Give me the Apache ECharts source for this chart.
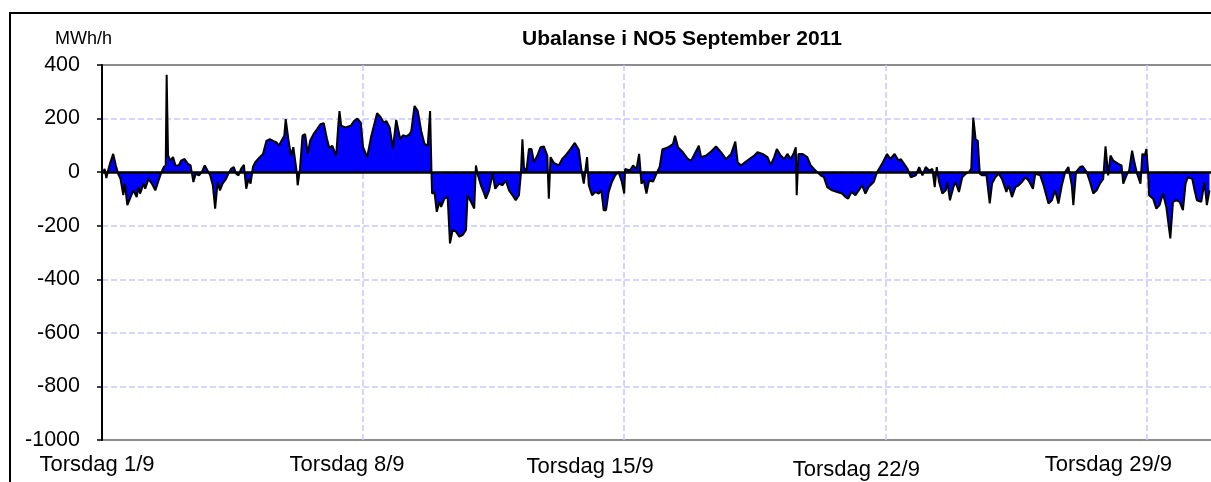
<!DOCTYPE html>
<html>
<head>
<meta charset="utf-8">
<script src="https://cdn.jsdelivr.net/npm/echarts@6/dist/echarts.min.js"></script>
<style>
  html, body { margin: 0; padding: 0; background: #fff; }
  #chart { width: 1211px; height: 482px; }
</style>
</head>
<body>
<div id="chart"></div>
<script>
// timer fra 1/9 kl 00, ubalanse i MWh/h
const hours = [
  0, 1.7, 2.8, 3.9, 5.4, 7.2, 8.9, 10.4, 11.9, 13.7, 14.7, 16.3, 18.0, 20.2, 22.3, 23.4, 24.5, 26.7, 27.8, 29.9,
  32.1, 34.3, 36.4, 37.9, 39.7, 41.0, 41.6, 42.5, 44.0, 45.7, 47.3, 49.4, 50.9, 53.1, 55.3, 57.0, 58.8, 60.3, 62.4, 64.2,
  66.1, 67.9, 69.6, 71.3, 72.8, 74.4, 75.9, 77.6, 79.8, 81.3, 83.0, 84.8, 86.3, 87.8, 89.5, 91.3, 92.8, 94.3, 95.6, 97.1,
  98.6, 101.5, 103.6, 105.8, 108.0, 110.1, 112.3, 113.8, 115.5, 117.3, 118.2, 119.9, 121.6, 123.1, 125.3, 125.9, 127.4, 129.0, 130.7, 132.4,
  133.9, 136.1, 138.3, 140.5, 142.7, 144.8, 146.3, 148.1, 150.7, 152.0, 152.8, 153.9, 156.7, 160.0, 162.2, 164.3, 166.5,
  168.0, 170.6, 173.3, 177.0, 179.1, 181.2, 182.9, 185.1, 187.2, 189.3, 190.4, 191.9, 193.6, 195.8, 197.9, 199.0, 201.1, 203.2, 205.4, 207.5,
  209.6, 210.7, 211.1, 212.0, 212.4, 213.9, 215.4, 217.1, 218.2, 220.3, 222.4, 223.9, 225.6, 227.8, 229.9, 232.0, 234.2, 235.2, 237.4, 239.5,
  240.6, 241.6, 243.8, 245.9, 247.0, 249.1, 251.3, 253.0, 255.5, 257.7, 259.8, 261.9, 264.1, 266.2, 268.3, 269.6, 270.5, 271.5, 273.0, 274.7,
  276.4, 277.9, 280.1, 282.2, 284.3, 286.5, 287.5, 288.6, 290.7, 293.9, 296.1, 298.2, 301.4, 304.2, 306.8, 308.5, 310.0, 312.1, 313.2, 315.3,
  317.4, 319.6, 321.3, 322.8, 324.3, 326.0, 328.1, 330.2, 332.4, 334.5, 336.0, 336.6,
  339.6, 341.7, 343.9, 345.6, 347.1, 348.6, 350.3, 352.0, 354.6, 356.7, 358.8, 360.6, 362.7, 365.2, 367.4, 368.7, 370.6, 373.8, 377.0, 379.1,
  381.3, 384.0, 385.5, 388.7, 391.9, 395.1, 398.4, 401.6, 404.8, 407.5, 409.0, 411.1, 413.3, 416.5, 419.7, 421.8, 425.0, 428.2, 430.3, 432.5,
  434.2, 436.7, 438.9, 441.0, 443.2, 445.3, 446.4, 447.0, 448.1, 450.6, 453.8, 456.0, 458.1, 460.2, 462.4, 464.5, 466.6, 469.8, 473.0, 476.2,
  478.4, 480.1, 482.2, 484.8, 486.9, 489.1, 491.2, 493.3, 496.5, 498.7, 501.9, 505.1, 507.2, 510.0, 512.5,
  514.0, 516.1, 518.3, 520.4, 523.6, 525.8, 527.9, 530.0, 532.2, 534.3, 535.8, 537.1, 538.6, 540.7, 542.9, 543.9, 545.6, 547.8, 549.2, 551.4,
  553.5, 555.7, 557.8, 559.3, 560.6, 562.1, 563.5, 564.8, 566.3, 569.1, 571.2, 572.7, 574.8, 577.0, 579.1, 581.9, 583.4, 585.5, 587.7, 589.8,
  591.9, 594.1, 596.2, 599.0, 600.5, 603.7, 605.8, 609.0, 611.2, 613.3, 615.4, 617.6, 619.7, 621.8, 624.0, 625.0, 626.7, 629.3, 631.0, 633.6,
  635.7, 637.8, 640.0, 642.1, 644.2, 645.7, 647.4, 648.9, 650.7, 653.9, 656.0, 657.1, 659.2, 660.9, 662.8, 664.5, 666.0, 668.2, 669.4, 670.9,
  672.0, 673.1, 673.7, 676.3, 678.4, 680.5, 682.7, 684.8, 687.4, 689.1, 691.2, 693.4, 695.5, 697.2, 698.7, 701.5, 703.0, 704.5, 707.3, 709.4,
  710.9, 712.6
];
const values = [
  -6, 12, -22, 6, 37, 68, 25, -6, -25, -86, -43, -123, -99, -68, -93, -56, -80, -43, -62, -25,
  -43, -68, -31, -6, 19, 25, 364, 62, 43, 56, 25, 25, 43, 49, 31, 25, -37, -6, -12, 0,
  25, 6, -12, -49, -136, -37, -68, -43, -25, -6, 12, 19, -6, -12, 12, 27, -62, -25, -43, 19,
  37, 56, 68, 117, 123, 117, 111, 99, 117, 136, 198, 123, 62, 93, 0, -49, 12, 136, 142, 68,
  117, 142, 160, 179, 183, 123, 89, 99, 62, 173, 228, 173, 167, 173, 191, 200, 185,
  93, 56, 136, 220, 207, 185, 191, 167, 89, 195, 191, 123, 138, 133, 142, 154, 247, 228, 154, 105,
  99, 105, 228, 0, -80, -74, -148, -111, -130, -99, -93, -266, -216, -222, -241, -235, -216, -86, -111, -136,
  25, -6, -49, -80, -99, -68, -6, -62, -43, -49, -31, -68, -86, -105, -86, 0, 123, 19, 0, 86,
  86, 37, 62, 93, 96, 62, -99, 56, 35, 25, 49, 62, 86, 109, 84, 6, -43, 56, -49, -86,
  -74, -80, -68, -142, -142, -74, -37, -12, 0, -37, -80, 12,
  6, 25, 12, 68, -43, -31, -80, -31, -35, -6, 19, 86, 89, 96, 105, 136, 93, 74, 49, 43,
  68, 99, 56, 62, 77, 96, 74, 49, 68, 114, 37, 25, 35, 49, 62, 74, 68, 56, 27, 56,
  86, 62, 49, 68, 49, 74, 93, -86, 68, 68, 56, 25, 12, 0, -12, -19, -56, -68, -74, -80,
  -93, -99, -74, -86, -68, -49, -80, -56, -37, 0, 31, 68, 49, 68, 43,
  49, 31, 12, -19, -12, 19, -12, 19, 6, 12, -56, 19, -37, -80, -68, -37, -105, -56, -37, -74,
  -19, -6, 0, 12, 204, 123, 117, -6, -12, -12, -117, -43, -19, -6, -25, -74, -49, -93, -56, -49,
  -37, -19, -31, -62, -6, -12, -49, -117, -105, -68, -117, -49, 0, 19, -49, -123, 0, 19, 22, 0,
  -37, -80, -68, -43, -25, 96, -12, 62, 43, 31, 25, -43, -12, 6, 80, 31, -6, -43, 68, 62,
  86, 0, -86, -99, -136, -123, -80, -130, -247, -111, -105, -111, -142, -43, -19, -25, -68, -105, -111, -37,
  -123, -68
];
const tickHours = [0, 168, 336, 504, 672];
const tickLabels = ['Torsdag 1/9', 'Torsdag 8/9', 'Torsdag 15/9', 'Torsdag 22/9', 'Torsdag 29/9'];

const font = "'Liberation Sans', Arial, sans-serif";
// Excel plasserer etikettene litt ujevnt
const labelShift = [[0, 10], [0, 32], [2, 68], [5, 58], [0, 76]];
const rich = {};
labelShift.forEach((s, i) => {
  rich['r' + i] = { fontSize: 22, fontFamily: font, color: '#000', padding: [s[0], s[1], 0, 0] };
});

const myChart = echarts.init(document.getElementById('chart'));
const gridLine = { color: '#c8c8ff', type: [6, 3], width: 1.5 };

const option = {
  animation: false,
  title: [
    {
      text: 'Ubalanse i NO5 September 2011',
      left: 522, top: 29, padding: 0,
      textStyle: { fontFamily: font, fontSize: 21, fontWeight: 'bold', color: '#000' }
    },
    {
      text: 'MWh/h',
      left: 55, top: 30, padding: 0,
      textStyle: { fontFamily: font, fontSize: 18, fontWeight: 'normal', color: '#000' }
    }
  ],
  graphic: [{
    type: 'rect',
    shape: { x: 10, y: 13, width: 1400, height: 600 },
    style: { fill: 'none', stroke: '#000', lineWidth: 2 },
    silent: true
  }],
  grid: {
    left: 102, top: 65, width: 1119, height: 375,
    outerBoundsMode: 'none', containLabel: false,
    show: true, borderColor: '#8c8c8c', borderWidth: 2, backgroundColor: 'transparent'
  },
  xAxis: {
    type: 'value',
    min: 0, max: 720, interval: 168,
    axisLine: { show: false },
    axisTick: { show: false },
    splitLine: { show: true, showMinLine: false, showMaxLine: false, lineStyle: gridLine },
    axisLabel: {
      margin: 14,
      fontFamily: font, fontSize: 22, color: '#000',
      formatter: function (v) {
        const i = tickHours.indexOf(v);
        return i < 0 ? '' : '{r' + i + '|' + tickLabels[i] + '}';
      },
      rich: rich
    }
  },
  yAxis: {
    type: 'value',
    min: -1000, max: 400, interval: 200,
    axisLine: { show: true, lineStyle: { color: '#000', width: 2 } },
    axisTick: { show: true, length: 5, lineStyle: { color: '#000', width: 1.5 } },
    splitLine: { show: true, showMinLine: false, showMaxLine: false, lineStyle: gridLine },
    axisLabel: {
      margin: 22, fontFamily: font, fontSize: 21.5, color: '#000',
      formatter: function (v) { return String(v); }
    }
  },
  series: [{
    type: 'line',
    data: hours.map((h, i) => [h, values[i]]),
    symbol: 'none',
    lineStyle: { color: '#000', width: 2 },
    areaStyle: { color: '#0000ff', opacity: 1 },
    markLine: {
      silent: true,
      symbol: 'none',
      label: { show: false },
      lineStyle: { color: '#000', width: 2.5, type: 'solid' },
      data: [{ yAxis: 0 }]
    }
  }]
};
myChart.setOption(option);
</script>
</body>
</html>
